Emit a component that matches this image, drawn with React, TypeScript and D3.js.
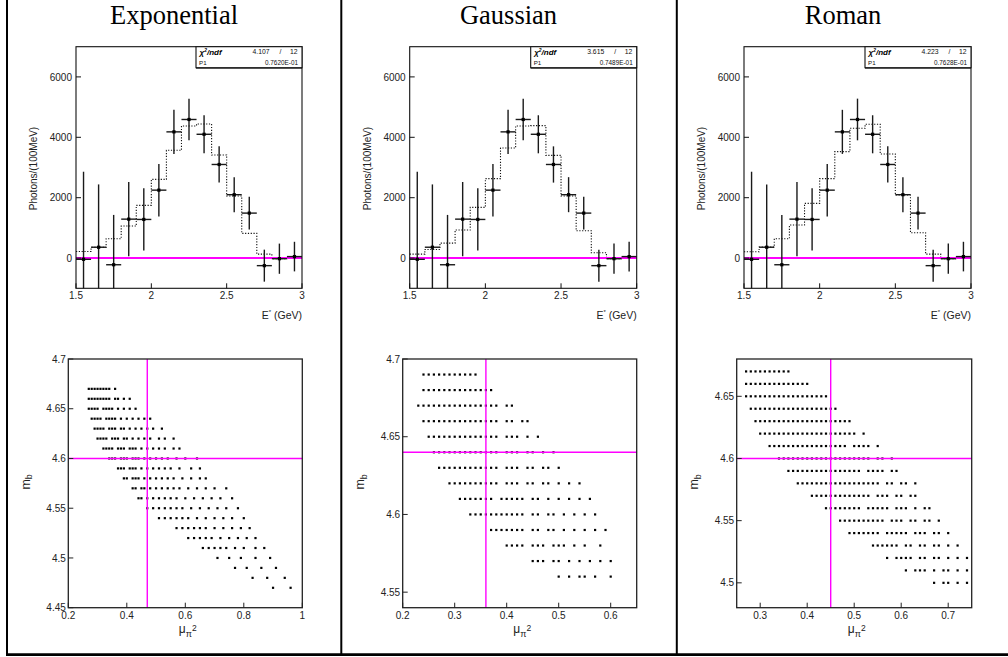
import React from 'react';
import * as d3 from 'd3';

// ---------- data ----------
const TITLES = ['Exponential', 'Gaussian', 'Roman'];

const BIN_EDGES = [1.5, 1.6, 1.7, 1.8, 1.9, 2.0, 2.1, 2.2, 2.3, 2.4, 2.5, 2.6, 2.7, 2.8, 2.9, 3.0];
const BIN_CENTERS = [1.55, 1.65, 1.75, 1.85, 1.95, 2.05, 2.15, 2.25, 2.35, 2.45, 2.55, 2.65, 2.75, 2.85, 2.95];
const DATA_VALUES = [-40, 360, -220, 1290, 1280, 2250, 4180, 4590, 4100, 3100, 2100, 1490, -250, -20, 50];
const DATA_ERRORS = [2900, 2080, 1650, 1230, 1030, 870, 730, 690, 630, 600, 580, 540, 530, 500, 490];

const FIT_EXP = [221, 354, 641, 1061, 1746, 2608, 3569, 4376, 4442, 3414, 2055, 818, 133, -22, 44];
const FIT_GAUSS = [133, 287, 497, 928, 1680, 2630, 3646, 4376, 4387, 3403, 2055, 906, 177, -22, 44];
const FIT_ROMAN = [210, 365, 641, 1094, 1812, 2630, 3525, 4298, 4431, 3448, 2088, 840, 133, -22, 44];

const CHI2 = ['4.107', '3.615', '4.223'];
const NDF = ['12', '12', '12'];
const P1 = ['0.7620E-01', '0.7489E-01', '0.7628E-01'];

const HIST_X_DOMAIN = [1.5, 3];
const HIST_Y_DOMAIN = [-1000, 7000];
const HIST_X_TICKS = [1.5, 2, 2.5, 3];
const HIST_Y_TICKS = [0, 2000, 4000, 6000];

type Row = [number, number[]];

const SCAT_EXP_ROWS: Row[] = [
  [4.67, [0.27, 0.28, 0.29, 0.30, 0.31, 0.32, 0.33, 0.34, 0.36]],
  [4.66, [0.27, 0.28, 0.29, 0.30, 0.31, 0.32, 0.33, 0.34, 0.36, 0.37, 0.39, 0.41]],
  [4.65, [0.27, 0.28, 0.29, 0.30, 0.32, 0.33, 0.34, 0.35, 0.37, 0.39, 0.41, 0.43]],
  [4.64, [0.28, 0.29, 0.30, 0.31, 0.33, 0.34, 0.35, 0.36, 0.38, 0.40, 0.42, 0.44, 0.46, 0.48]],
  [4.63, [0.29, 0.30, 0.31, 0.32, 0.34, 0.35, 0.36, 0.38, 0.39, 0.41, 0.43, 0.45, 0.47, 0.49, 0.52]],
  [4.62, [0.30, 0.31, 0.32, 0.33, 0.35, 0.36, 0.37, 0.39, 0.40, 0.42, 0.44, 0.46, 0.48, 0.51, 0.53, 0.56]],
  [4.61, [0.32, 0.33, 0.34, 0.35, 0.37, 0.38, 0.39, 0.41, 0.42, 0.43, 0.45, 0.47, 0.49, 0.51, 0.53, 0.56, 0.58]],
  [4.60, [0.34, 0.35, 0.36, 0.38, 0.39, 0.40, 0.42, 0.43, 0.44, 0.46, 0.48, 0.50, 0.52, 0.54, 0.57, 0.60, 0.64]],
  [4.59, [0.37, 0.38, 0.39, 0.41, 0.42, 0.43, 0.45, 0.47, 0.49, 0.51, 0.53, 0.55, 0.58, 0.62, 0.65]],
  [4.58, [0.39, 0.40, 0.42, 0.43, 0.44, 0.46, 0.48, 0.50, 0.52, 0.54, 0.56, 0.59, 0.62, 0.65, 0.67]],
  [4.57, [0.42, 0.43, 0.45, 0.46, 0.48, 0.50, 0.52, 0.54, 0.56, 0.58, 0.61, 0.64, 0.67, 0.70, 0.74]],
  [4.56, [0.44, 0.45, 0.47, 0.49, 0.51, 0.53, 0.55, 0.57, 0.60, 0.63, 0.66, 0.69, 0.72, 0.76]],
  [4.55, [0.47, 0.49, 0.51, 0.53, 0.55, 0.57, 0.59, 0.62, 0.65, 0.68, 0.71, 0.74, 0.78]],
  [4.54, [0.51, 0.53, 0.55, 0.57, 0.59, 0.61, 0.64, 0.67, 0.70, 0.73, 0.76, 0.80]],
  [4.53, [0.57, 0.59, 0.61, 0.63, 0.65, 0.67, 0.70, 0.73, 0.76, 0.79, 0.82]],
  [4.52, [0.61, 0.63, 0.65, 0.67, 0.69, 0.72, 0.75, 0.78, 0.81, 0.84]],
  [4.51, [0.66, 0.68, 0.70, 0.72, 0.74, 0.77, 0.80, 0.84, 0.87]],
  [4.50, [0.71, 0.75, 0.79, 0.84, 0.89]],
  [4.49, [0.77, 0.81, 0.86, 0.91]],
  [4.48, [0.83, 0.88, 0.94]],
  [4.47, [0.90, 0.96]],
];

const SCAT_GAUSS_ROWS: Row[] = [
  [4.69, [0.24, 0.25, 0.26, 0.27, 0.28, 0.29, 0.30, 0.31, 0.32, 0.33, 0.34]],
  [4.68, [0.24, 0.25, 0.26, 0.27, 0.28, 0.29, 0.30, 0.31, 0.32, 0.33, 0.34, 0.35, 0.36, 0.37]],
  [4.67, [0.23, 0.24, 0.25, 0.26, 0.27, 0.28, 0.29, 0.30, 0.31, 0.32, 0.33, 0.34, 0.35, 0.36, 0.37, 0.38, 0.40, 0.41]],
  [4.66, [0.24, 0.25, 0.26, 0.27, 0.28, 0.29, 0.30, 0.31, 0.32, 0.33, 0.34, 0.35, 0.36, 0.37, 0.38, 0.40, 0.41, 0.43, 0.44]],
  [4.65, [0.25, 0.26, 0.27, 0.28, 0.29, 0.30, 0.31, 0.32, 0.33, 0.34, 0.35, 0.36, 0.37, 0.38, 0.40, 0.41, 0.42, 0.44, 0.46]],
  [4.64, [0.26, 0.27, 0.28, 0.29, 0.30, 0.31, 0.32, 0.33, 0.34, 0.35, 0.36, 0.37, 0.38, 0.40, 0.41, 0.42, 0.44, 0.45, 0.47, 0.49]],
  [4.63, [0.27, 0.28, 0.29, 0.30, 0.31, 0.32, 0.33, 0.34, 0.35, 0.36, 0.37, 0.38, 0.40, 0.41, 0.42, 0.44, 0.45, 0.47, 0.48, 0.50]],
  [4.62, [0.29, 0.30, 0.31, 0.32, 0.33, 0.34, 0.35, 0.36, 0.37, 0.38, 0.40, 0.41, 0.42, 0.44, 0.45, 0.47, 0.48, 0.50, 0.52, 0.54]],
  [4.61, [0.31, 0.32, 0.33, 0.34, 0.35, 0.36, 0.37, 0.39, 0.40, 0.41, 0.42, 0.43, 0.45, 0.46, 0.48, 0.50, 0.52, 0.54, 0.56]],
  [4.60, [0.33, 0.34, 0.35, 0.36, 0.37, 0.38, 0.39, 0.40, 0.41, 0.42, 0.43, 0.45, 0.46, 0.48, 0.49, 0.51, 0.53, 0.55, 0.57]],
  [4.59, [0.37, 0.38, 0.39, 0.40, 0.41, 0.42, 0.43, 0.45, 0.46, 0.48, 0.49, 0.51, 0.53, 0.55, 0.57, 0.59]],
  [4.58, [0.40, 0.41, 0.42, 0.43, 0.45, 0.46, 0.47, 0.49, 0.50, 0.51, 0.53, 0.55, 0.58]],
  [4.57, [0.45, 0.46, 0.47, 0.49, 0.50, 0.52, 0.54, 0.56, 0.58, 0.60]],
  [4.56, [0.50, 0.52, 0.54, 0.55, 0.57, 0.60]],
];

const SCAT_ROMAN_ROWS: Row[] = [
  [4.67, [0.27, 0.28, 0.29, 0.30, 0.31, 0.32, 0.33, 0.34, 0.35, 0.36]],
  [4.66, [0.27, 0.28, 0.29, 0.30, 0.31, 0.32, 0.33, 0.34, 0.35, 0.36, 0.37, 0.38, 0.39, 0.40]],
  [4.65, [0.27, 0.28, 0.29, 0.30, 0.31, 0.32, 0.33, 0.34, 0.35, 0.36, 0.37, 0.38, 0.39, 0.40, 0.41, 0.42, 0.43, 0.44]],
  [4.64, [0.28, 0.29, 0.30, 0.31, 0.32, 0.33, 0.34, 0.35, 0.36, 0.37, 0.38, 0.39, 0.40, 0.41, 0.42, 0.43, 0.44, 0.45, 0.46]],
  [4.63, [0.29, 0.30, 0.31, 0.32, 0.33, 0.34, 0.35, 0.36, 0.37, 0.38, 0.39, 0.40, 0.41, 0.42, 0.43, 0.44, 0.45, 0.46, 0.47, 0.48, 0.49]],
  [4.62, [0.30, 0.31, 0.32, 0.33, 0.34, 0.35, 0.36, 0.37, 0.38, 0.39, 0.40, 0.41, 0.42, 0.43, 0.44, 0.45, 0.46, 0.47, 0.48, 0.49, 0.50, 0.52]],
  [4.61, [0.32, 0.33, 0.34, 0.35, 0.36, 0.37, 0.38, 0.39, 0.40, 0.41, 0.42, 0.43, 0.44, 0.45, 0.46, 0.47, 0.48, 0.50, 0.51, 0.52, 0.53, 0.55]],
  [4.60, [0.34, 0.35, 0.36, 0.37, 0.38, 0.39, 0.40, 0.41, 0.42, 0.43, 0.44, 0.45, 0.46, 0.47, 0.48, 0.49, 0.50, 0.51, 0.52, 0.53, 0.55, 0.56, 0.58]],
  [4.59, [0.36, 0.37, 0.38, 0.39, 0.40, 0.41, 0.42, 0.43, 0.44, 0.45, 0.46, 0.47, 0.48, 0.49, 0.50, 0.51, 0.53, 0.54, 0.55, 0.56, 0.58, 0.59]],
  [4.58, [0.38, 0.39, 0.40, 0.41, 0.42, 0.43, 0.44, 0.45, 0.46, 0.47, 0.48, 0.49, 0.50, 0.51, 0.52, 0.53, 0.54, 0.55, 0.57, 0.58, 0.60, 0.61, 0.63]],
  [4.57, [0.41, 0.42, 0.43, 0.44, 0.45, 0.46, 0.47, 0.48, 0.49, 0.50, 0.51, 0.52, 0.53, 0.55, 0.56, 0.57, 0.59, 0.60, 0.62, 0.63]],
  [4.56, [0.44, 0.45, 0.46, 0.47, 0.48, 0.49, 0.50, 0.51, 0.53, 0.54, 0.55, 0.56, 0.57, 0.59, 0.60, 0.61, 0.63, 0.65, 0.66]],
  [4.55, [0.47, 0.48, 0.49, 0.50, 0.51, 0.52, 0.53, 0.54, 0.55, 0.56, 0.58, 0.59, 0.60, 0.62, 0.63, 0.65, 0.66, 0.68]],
  [4.54, [0.49, 0.50, 0.51, 0.52, 0.53, 0.54, 0.55, 0.57, 0.58, 0.59, 0.60, 0.61, 0.63, 0.64, 0.65, 0.67, 0.68, 0.70]],
  [4.53, [0.54, 0.55, 0.56, 0.57, 0.58, 0.59, 0.61, 0.62, 0.64, 0.65, 0.67, 0.68, 0.70, 0.72]],
  [4.52, [0.57, 0.59, 0.60, 0.61, 0.62, 0.64, 0.65, 0.67, 0.68, 0.70, 0.72, 0.74]],
  [4.51, [0.61, 0.63, 0.64, 0.65, 0.67, 0.69, 0.70, 0.72, 0.74]],
  [4.50, [0.67, 0.69, 0.70, 0.72, 0.74]],
];

const SCAT_X_DOMAINS = [[0.2, 1.0], [0.2, 0.65], [0.25, 0.75]];
const SCAT_Y_DOMAINS = [[4.45, 4.7], [4.54, 4.7], [4.48, 4.68]];
const SCAT_X_TICKS = [[0.2, 0.4, 0.6, 0.8, 1], [0.2, 0.3, 0.4, 0.5, 0.6], [0.3, 0.4, 0.5, 0.6, 0.7]];
const SCAT_Y_TICKS = [[4.45, 4.5, 4.55, 4.6, 4.65, 4.7], [4.55, 4.6, 4.65, 4.7], [4.5, 4.55, 4.6, 4.65]];
const BEST_MU = [0.47, 0.36, 0.45];
const BEST_MB = [4.6, 4.64, 4.6];

// ---------- layout ----------
const W = 1008;
const H = 657;
const COL_CENTERS = [174, 508.5, 843];
const HIST_X = [[76, 302], [409.7, 636.7], [744, 971]];
const HIST_Y = [46.7, 288.3];
const SCAT_X = [[68.3, 302.3], [402.7, 636.7], [736.7, 971.7]];
const SCAT_Y = [359, 607.7];
const SANS = "'Liberation Sans', Arial, Helvetica, sans-serif";
const SERIF = "'Liberation Serif', 'Times New Roman', serif";
const MAGENTA = '#ff00ff';
const TICK = 5;

const FITS = [FIT_EXP, FIT_GAUSS, FIT_ROMAN];
const SCAT_ROWS = [SCAT_EXP_ROWS, SCAT_GAUSS_ROWS, SCAT_ROMAN_ROWS];

function HistPanel({ i }: { i: number }) {
  const [x0, x1] = HIST_X[i];
  const [y0, y1] = HIST_Y;
  const x = d3.scaleLinear().domain(HIST_X_DOMAIN).range([x0, x1]);
  const y = d3.scaleLinear().domain(HIST_Y_DOMAIN).range([y1, y0]);
  const fit = FITS[i];
  const stepPts: [number, number][] = BIN_EDGES.map((e, k) => [e, fit[Math.min(k, fit.length - 1)]]);
  const step = d3
    .line<[number, number]>()
    .x((d) => x(d[0]))
    .y((d) => y(d[1]))
    .curve(d3.curveStepAfter)(stepPts) as string;
  const clamp = (v: number) => Math.max(HIST_Y_DOMAIN[0], Math.min(HIST_Y_DOMAIN[1], v));
  const binW = BIN_EDGES[1] - BIN_EDGES[0];
  const boxW = 106;
  const boxH = 21;
  return (
    <g>
      <text x={COL_CENTERS[i]} y={24} fontFamily={SERIF} fontSize={26.5} textAnchor="middle" fill="#000">
        {TITLES[i]}
      </text>
      <rect x={x0} y={y0} width={x1 - x0} height={y1 - y0} fill="#fff" stroke="none" />
      {/* fit step histogram */}
      <path d={step} fill="none" stroke="#111" strokeWidth={1.1} strokeDasharray="1.2,1.6" />
      {/* zero line */}
      <line x1={x0} x2={x1} y1={y(0)} y2={y(0)} stroke={MAGENTA} strokeWidth={2} />
      {/* data points */}
      {BIN_CENTERS.map((c, k) => {
        const v = DATA_VALUES[k];
        const e = DATA_ERRORS[k];
        return (
          <g key={k}>
            <line x1={x(c)} x2={x(c)} y1={y(clamp(v - e))} y2={y(clamp(v + e))} stroke="#1a1a1a" strokeWidth={1.4} />
            <line x1={x(c - binW / 2)} x2={x(c + binW / 2)} y1={y(v)} y2={y(v)} stroke="#1a1a1a" strokeWidth={1.4} />
            <rect x={x(c) - 1.6} y={y(v) - 1.6} width={3.2} height={3.2} fill="#000" />
          </g>
        );
      })}
      {/* frame */}
      <rect x={x0} y={y0} width={x1 - x0} height={y1 - y0} fill="none" stroke="#111" strokeWidth={1.1} />
      {/* ticks */}
      {HIST_Y_TICKS.map((t) => (
        <g key={'y' + t}>
          <line x1={x0} x2={x0 + TICK} y1={y(t)} y2={y(t)} stroke="#111" strokeWidth={1} />
          <text x={x0 - 4} y={y(t) + 3.6} fontFamily={SANS} fontSize={10} textAnchor="end" fill="#222">
            {String(t)}
          </text>
        </g>
      ))}
      {HIST_X_TICKS.map((t) => (
        <g key={'x' + t}>
          <line x1={x(t)} x2={x(t)} y1={y1} y2={y1 - TICK} stroke="#111" strokeWidth={1} />
          <text x={x(t)} y={y1 + 11} fontFamily={SANS} fontSize={10} textAnchor="middle" fill="#222">
            {String(t)}
          </text>
        </g>
      ))}
      {/* axis titles */}
      <text
        transform={`translate(${x0 - 39},${(y0 + y1) / 2 + 1}) rotate(-90)`}
        fontFamily={SANS}
        fontSize={10}
        textAnchor="middle"
        fill="#222"
      >
        Photons/(100MeV)
      </text>
      <text x={x1} y={319} fontFamily={SANS} fontSize={10.5} textAnchor="end" fill="#222">
        E<tspan fontSize={6} dy={-5}>*</tspan>
        <tspan dy={5}> (GeV)</tspan>
      </text>
      {/* stat box */}
      <rect x={x1 - boxW} y={y0} width={boxW} height={boxH} fill="#fff" stroke="#111" strokeWidth={1.1} />
      <line x1={x1 - boxW} x2={x1} y1={y0 + boxH + 0.6} y2={y0 + boxH + 0.6} stroke="#111" strokeWidth={0.8} />
      <text x={x1 - boxW + 3.5} y={y0 + 7.8} fontFamily={SANS} fontSize={8} fontStyle="italic" fontWeight="bold" fill="#000">
        χ<tspan fontSize={5} dy={-3}>2</tspan>
        <tspan dy={3}>/ndf</tspan>
      </text>
      <text x={x1 - 49.5} y={y0 + 7.6} fontFamily={SANS} fontSize={6.8} fill="#111">
        {CHI2[i]}
      </text>
      <text x={x1 - 22.5} y={y0 + 7.6} fontFamily={SANS} fontSize={6.8} fill="#111">
        /
      </text>
      <text x={x1 - 4.5} y={y0 + 7.6} fontFamily={SANS} fontSize={6.8} textAnchor="end" fill="#111">
        {NDF[i]}
      </text>
      <text x={x1 - boxW + 3} y={y0 + 18.5} fontFamily={SANS} fontSize={6.2} fill="#111">
        P1
      </text>
      <text x={x1 - 4} y={y0 + 18.5} fontFamily={SANS} fontSize={6.4} textAnchor="end" fill="#111">
        {P1[i]}
      </text>
    </g>
  );
}

function ScatPanel({ i }: { i: number }) {
  const [x0, x1] = SCAT_X[i];
  const [y0, y1] = SCAT_Y;
  const x = d3.scaleLinear().domain(SCAT_X_DOMAINS[i]).range([x0, x1]);
  const y = d3.scaleLinear().domain(SCAT_Y_DOMAINS[i]).range([y1, y0]);
  const rows = SCAT_ROWS[i];
  const s = 2.2;
  return (
    <g>
      <rect x={x0} y={y0} width={x1 - x0} height={y1 - y0} fill="#fff" stroke="none" />
      {rows.map(([yv, xs], r) =>
        xs.map((xv, k) => (
          <rect key={r + '-' + k} x={x(xv) - s / 2} y={y(yv) - s / 2} width={s} height={s} fill="#000" />
        ))
      )}
      <line x1={x(BEST_MU[i])} x2={x(BEST_MU[i])} y1={y0} y2={y1} stroke={MAGENTA} strokeWidth={1.4} />
      <line x1={x0} x2={x1} y1={y(BEST_MB[i])} y2={y(BEST_MB[i])} stroke={MAGENTA} strokeWidth={1.4} />
      <rect x={x0} y={y0} width={x1 - x0} height={y1 - y0} fill="none" stroke="#222" strokeWidth={1.3} />
      {SCAT_Y_TICKS[i].map((t) => (
        <g key={'y' + t}>
          <line x1={x0} x2={x0 + TICK} y1={y(t)} y2={y(t)} stroke="#222" strokeWidth={1} />
          <text x={x0 - 2.5} y={y(t) + 3.6} fontFamily={SANS} fontSize={10} textAnchor="end" fill="#222">
            {String(t)}
          </text>
        </g>
      ))}
      {SCAT_X_TICKS[i].map((t) => (
        <g key={'x' + t}>
          <line x1={x(t)} x2={x(t)} y1={y1} y2={y1 - TICK} stroke="#222" strokeWidth={1} />
          <text x={x(t)} y={y1 + 11.4} fontFamily={SANS} fontSize={10} textAnchor="middle" fill="#222">
            {String(t)}
          </text>
        </g>
      ))}
      <text
        transform={`translate(${x0 - 38.5},${(y0 + y1) / 2 - 1.5}) rotate(-90)`}
        fontFamily={SANS}
        fontSize={12.5}
        textAnchor="middle"
        fill="#222"
      >
        m<tspan fontSize={9} dy={2.5}>b</tspan>
      </text>
      <text x={(x0 + x1) / 2 + 2.5} y={632.5} fontFamily={SANS} fontSize={12} textAnchor="middle" fill="#222">
        μ<tspan fontSize={9} dy={4}>π</tspan>
        <tspan fontSize={8.5} dy={-5.5}>2</tspan>
      </text>
    </g>
  );
}

export default function App() {
  return (
    <svg
      width={W}
      height={H}
      viewBox={`0 0 ${W} ${H}`}
      style={{ position: 'absolute', left: 0, top: 0, background: '#fff' }}
    >
      <rect x={0} y={0} width={W} height={H} fill="#fff" />
      {[0, 1, 2].map((i) => (
        <HistPanel key={'h' + i} i={i} />
      ))}
      {[0, 1, 2].map((i) => (
        <ScatPanel key={'s' + i} i={i} />
      ))}
      {/* table rules */}
      {[7, 341.3, 676.8].map((xv) => (
        <line key={xv} x1={xv} x2={xv} y1={0} y2={656} stroke="#000" strokeWidth={2} />
      ))}
      <line x1={6} x2={W} y1={654.6} y2={654.6} stroke="#000" strokeWidth={2.6} />
    </svg>
  );
}
